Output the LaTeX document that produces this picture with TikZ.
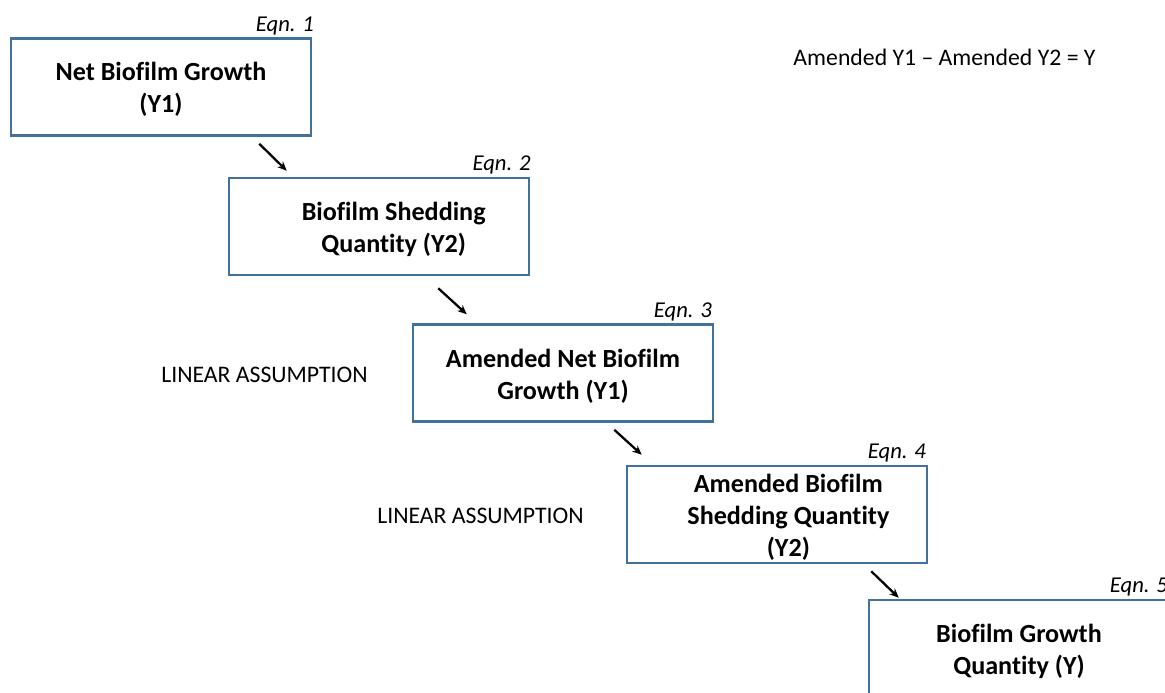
\documentclass[tikz,border=0pt]{standalone}
\usepackage{fontspec}
\setmainfont{Carlito}[Ligatures=NoCommon]
\usetikzlibrary{positioning,arrows.meta,calc}
\definecolor{boxblue}{RGB}{65,113,156}
\tikzset{
mybox/.style={
  draw=boxblue,
  line width=1.9pt,
  minimum width=225pt,
  minimum height=72.75pt,
  inner sep=0pt
},
mytext/.style={
  align=center,
  font=\fontsize{19.6}{24}\selectfont\bfseries
},
myeqn/.style={
  inner sep=1.5pt,
  font=\fontsize{17}{20}\selectfont\itshape
},
mynote/.style={
  font=\fontsize{17.8}{20}\selectfont
},
myarrow/.style={
  line width=1.7pt,
  -{Stealth[length=7pt,width=6pt]}
}
}

\begin{document}
\begin{tikzpicture}[x=0.75pt,y=-0.75pt]
  \useasboundingbox (0,0) rectangle (1165,693);
  \clip (0,0) rectangle (1165,693);

  \node[mybox] (b1) at (161,87) {};
  \node[mybox] (b2) at (379,226.5) {};
  \node[mybox] (b3) at (563,373) {};
  \node[mybox] (b4) at (777,514.5) {};
  \node[mybox] (b5) at (1019,648.5) {};

  \node[mytext] (t1) at ([yshift=-2pt]b1) {Net Biofilm Growth\\(Y1)};
  \node[mytext] (t2) at ([xshift=11pt,yshift=-2.5pt]b2) {Biofilm Shedding\\Quantity (Y2)};
  \node[mytext] (t3) at ([yshift=-2.2pt]b3) {Amended Net Biofilm\\Growth (Y1)};
  \node[mytext] (t4) at ([xshift=8.5pt,yshift=-2pt]b4) {Amended Biofilm\\Shedding Quantity\\(Y2)};
  \node[mytext] (t5) at ([yshift=-2.2pt]b5) {Biofilm Growth\\Quantity (Y)};

  \node[myeqn,above left=0pt and -3pt of b1.north east] (e1) {Eqn. 1};
  \node[myeqn,above left=0pt and -2pt of b2.north east] (e2) {Eqn. 2};
  \node[myeqn,above left=0pt and 0pt of b3.north east] (e3) {Eqn. 3};
  \node[myeqn,above left=0pt and 0pt of b4.north east] (e4) {Eqn. 4};
  \node[myeqn,above left=0pt and 0pt of b5.north east] (e5) {Eqn. 5};

  \node[mynote] (n1) at (264.5,374.5) {LINEAR ASSUMPTION};
  \node[mynote] (n2) at (480.5,516) {LINEAR ASSUMPTION};
  \node[mynote] (sum) at (944.5,57) {Amended Y1 -- Amended Y2 = Y};

  \draw[myarrow] ($(b1.south east)+(-53,7)$) -- ($(b2.north west)+(59,-6)$);
  \draw[myarrow] ($(b2.south east)+(-92,12)$) -- ($(b3.north west)+(55,-9)$);
  \draw[myarrow] ($(b3.south east)+(-100,7)$) -- ($(b4.north west)+(16,-10)$);
  \draw[myarrow] ($(b4.south east)+(-57,7)$) -- ($(b5.north west)+(31,-1)$);
\end{tikzpicture}
\end{document}
